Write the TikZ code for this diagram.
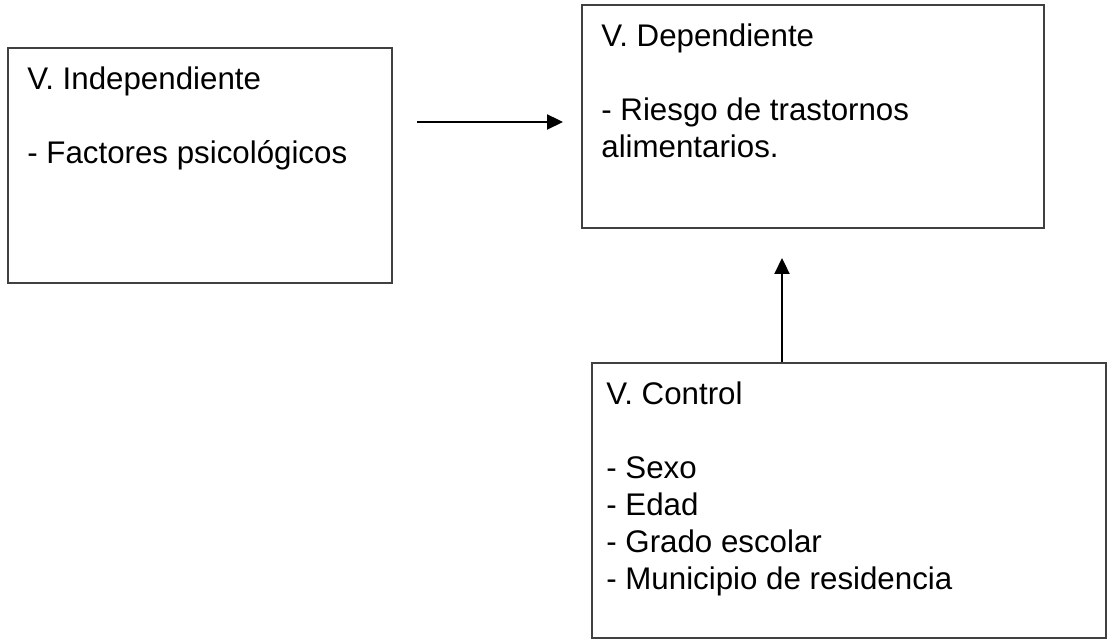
\documentclass[tikz,border=0pt]{standalone}
\usepackage{fontspec}
\setmainfont{Liberation Sans}
\usetikzlibrary{arrows.meta}

\begin{document}
\begin{tikzpicture}[
	caja/.style={draw=black!75, line width=0.04cm, inner sep=0pt},
	texto/.style={anchor=north west, inner sep=0pt, align=left, font=\fontsize{17.8}{21}\selectfont},
	flecha/.style={-{Triangle[length=0.32cm,width=0.3cm]}, line width=0.045cm}
	]
	\useasboundingbox (0,0) rectangle (22.26,-12.8);
	% las tres cajas
	\node [caja, minimum width=7.68cm, minimum height=4.7cm] (indep) at (4.0,-3.31) {};
	\node [caja, minimum width=9.24cm, minimum height=4.46cm] (dep) at (16.26,-2.33) {};
	\node [caja, minimum width=10.28cm, minimum height=5.5cm] (ctrl) at (16.98,-10.01) {};
	\node [texto] (indeptxt) at ([xshift=4mm,yshift=-3.9mm]indep.north west) {V. Independiente\\[21pt]- Factores psicológicos};
	\node [texto] (deptxt) at ([xshift=4mm,yshift=-3.9mm]dep.north west) {V. Dependiente\\[21pt]- Riesgo de trastornos\\alimentarios.};
	\node [texto] (ctrltxt) at ([xshift=3mm,yshift=-3.9mm]ctrl.north west) {V. Control\\[21pt]- Sexo\\- Edad\\- Grado escolar\\- Municipio de residencia};
	% flechas
	\coordinate (nivel) at (0,-2.44);
	\coordinate (eje) at (15.64,0);
	\draw [flecha, shorten <=0.48cm, shorten >=0.36cm] (indep.east |- nivel) -- (dep.west |- nivel);
	\draw [flecha, shorten >=0.58cm] (ctrl.north -| eje) -- (dep.south -| eje);
\end{tikzpicture}
\end{document}
